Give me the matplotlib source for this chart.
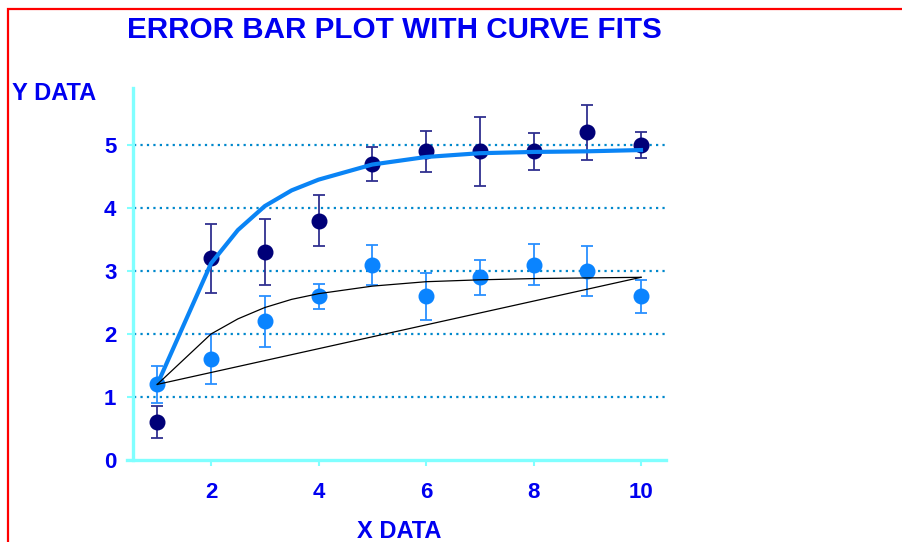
"""Error bar plot with two data series and three curve fits."""
import matplotlib

matplotlib.use("Agg")
import matplotlib.pyplot as plt  # noqa: E402
from matplotlib.patches import Rectangle  # noqa: E402

plt.rcParams["font.family"] = ["Liberation Sans", "DejaVu Sans"]
plt.rcParams["font.weight"] = "bold"

# data
x = [1, 2, 3, 4, 5, 6, 7, 8, 9, 10]
dark_y = [0.6, 3.2, 3.3, 3.8, 4.7, 4.9, 4.9, 4.9, 5.2, 5.0]
dark_err = [0.25, 0.55, 0.52, 0.40, 0.27, 0.33, 0.55, 0.29, 0.43, 0.20]
light_y = [1.2, 1.6, 2.2, 2.6, 3.1, 2.6, 2.9, 3.1, 3.0, 2.6]
light_err = [0.30, 0.40, 0.40, 0.20, 0.32, 0.37, 0.28, 0.33, 0.39, 0.26]

# fitted curves (values read at these x positions)
fit_x = [1, 2, 2.5, 3, 3.5, 4, 5, 6, 7, 8, 9, 10]
fit_thick = [1.2, 3.12, 3.65, 4.03, 4.28, 4.45, 4.69, 4.81, 4.87, 4.89, 4.90, 4.92]
fit_thin = [1.2, 2.0, 2.24, 2.42, 2.55, 2.64, 2.76, 2.83, 2.86, 2.88, 2.89, 2.90]
line_x = [1, 10]
line_y = [1.2, 2.9]

grid_y = [1, 2, 3, 4, 5]
yticks = [0, 1, 2, 3, 4, 5]
xticks = [2, 4, 6, 8, 10]

BLUE_TXT = "#0000F0"
NAVY = "#000078"
LIGHT = "#0A84FF"
CYAN = "#80FFFF"

W, H = 902, 542
fig = plt.figure(figsize=(W / 100, H / 100), dpi=100)
ax = fig.add_axes([127 / W, 1 - 460 / H, 539 / W, 372 / H])
ax.set_xlim(0.437, 10.465)
ax.set_ylim(0, 5.905)

for s in ["top", "right"]:
    ax.spines[s].set_visible(False)
for s in ["left", "bottom"]:
    ax.spines[s].set_color(CYAN)
    ax.spines[s].set_linewidth(2.4)
ax.spines["left"].set_position(("axes", 6 / 539))

ax.hlines(grid_y, 0.56, 10.45, colors="#0088CC", linestyles=(0, (1, 1.9)),
          linewidth=1.6, zorder=1)

ax.errorbar(x, dark_y, yerr=dark_err, fmt="o", color=NAVY, ecolor="#303090",
            elinewidth=1.3, capsize=4.5, capthick=1.3, markersize=10.5,
            zorder=3)
ax.errorbar(x, light_y, yerr=light_err, fmt="o", color=LIGHT, ecolor="#2A90FF",
            elinewidth=1.3, capsize=4.5, capthick=1.3, markersize=10.5,
            zorder=3)

ax.plot(fit_x, fit_thick, color="#0A84F5", linewidth=3, zorder=4,
        solid_joinstyle="round")
ax.plot(fit_x, fit_thin, color="black", linewidth=0.9, zorder=4)
ax.plot(line_x, line_y, color="black", linewidth=0.9, zorder=4)

ax.set_yticks(yticks)
ax.set_xticks(xticks)
ax.set_yticklabels([str(v) for v in yticks])
ax.set_xticklabels([str(v) for v in xticks])
ax.tick_params(axis="both", colors=CYAN, labelcolor=BLUE_TXT, labelsize=16,
               length=4, width=1.5)
ax.tick_params(axis="y", pad=8)
ax.tick_params(axis="x", pad=12)
for lab in ax.get_xticklabels() + ax.get_yticklabels():
    lab.set_fontweight("bold")
ax.yaxis.get_major_ticks()[-1].tick1line.set_color("#6060A0")
ax.xaxis.get_major_ticks()[-1].tick1line.set_color("#2070A0")

fig.text(394 / W, 1 - 30 / H, "ERROR BAR PLOT WITH CURVE FITS", ha="center",
         va="center", fontsize=21.3, fontweight="bold", color=BLUE_TXT)
fig.text(12 / W, 1 - 93 / H, "Y DATA", ha="left", va="center", fontsize=17,
         fontweight="bold", color=BLUE_TXT)
fig.text(399 / W, 1 - 532 / H, "X DATA", ha="center", va="center", fontsize=17,
         fontweight="bold", color=BLUE_TXT)

# red frame, runs off the right and bottom edges
fig.add_artist(Rectangle((8 / W, -0.2), 1.5, 1.2 - 9 / H, fill=False,
                         edgecolor="#FF0000", linewidth=1.6,
                         transform=fig.transFigure, clip_on=False))

fig.savefig("out.png", dpi=100)
